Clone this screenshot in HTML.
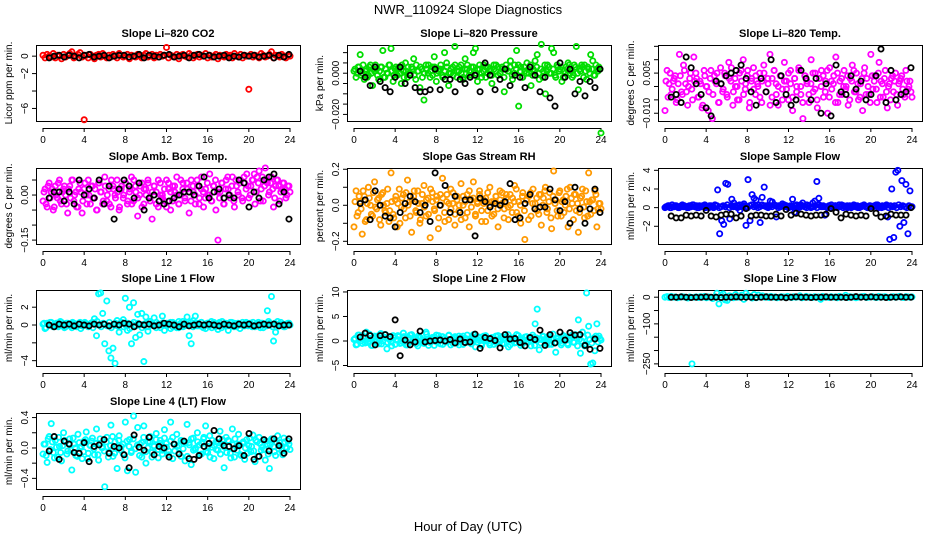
<!DOCTYPE html>
<html><head><meta charset="utf-8"><style>
body{margin:0;background:#fff}
svg{display:block;font-family:"Liberation Sans",sans-serif}
</style></head><body>
<svg id="c" width="936" height="540" viewBox="0 0 936 540">
<text x="468" y="14" text-anchor="middle" font-size="13">NWR_110924  Slope Diagnostics</text>
<text x="468" y="531" text-anchor="middle" font-size="13">Hour of Day (UTC)</text>
</svg>
<script>
const hourTicks=[0,4,8,12,16,20,24];
const co2Vals=[0.1,-0.2,0.2,0.0,-0.1,0.3,-0.2,0.1,0.0,-0.3,0.2,-0.1,0.1,0.3,0.5,-0.2,0.0,0.2,0.4,-0.1,-7.3,0.1,-0.2,0.2,0.0,-0.3,0.1,0.2,-0.1,0.3,0.0,-0.2,0.1,-0.1,0.2,0.0,-0.2,0.3,0.1,-0.1,0.0,0.2,-0.3,0.1,0.0,-0.1,0.2,0.0,-0.2,0.1,0.3,-0.1,0.0,0.2,-0.2,0.1,-0.1,0.2,0.0,0.1,1.0,-0.2,0.1,0.0,-0.1,0.2,-0.3,0.1,0.2,0.0,-0.1,0.3,0.1,-0.2,0.0,0.2,-0.1,0.1,0.0,0.3,-0.2,0.1,-0.1,0.0,0.2,-0.3,0.1,0.0,-0.1,0.2,0.0,0.1,-0.2,0.3,0.0,-0.1,0.2,-0.2,0.1,0.0,-3.8,0.2,-0.1,0.1,0.0,-0.2,0.3,0.1,-0.1,0.0,0.2,0.5,-0.2,0.1,0.0,-0.1,0.2,0.0,-0.2,0.1,0.0];
const co2Black=[-0.2,0.0,0.1,-0.1,0.1,0.0,-0.2,0.1,0.2,-0.1,0.0,0.1,-0.2,0.0,0.1,0.1,-0.1,0.0,0.2,-0.2,0.1,0.0,-0.1,0.1,0.2,-0.1,0.0,0.1,-0.2,0.1,0.2,0.0,0.1,-0.1,0.0,0.1,-0.2,0.0,-0.1,0.1,0.0,0.1,-0.1,0.0,0.1,-0.2,0.1,-0.1,0.2];
const presVals=[0.001,-0.002,0.003,0.009,0.000,-0.003,0.002,-0.001,0.004,-0.006,0.001,0.002,-0.003,0.003,0.011,-0.002,0.000,0.004,0.012,-0.004,0.002,-0.001,0.003,-0.005,0.001,0.005,-0.002,0.000,0.003,0.007,-0.003,0.001,-0.007,0.002,-0.013,0.004,0.000,-0.002,0.003,0.008,-0.004,0.001,0.002,-0.001,0.010,0.005,-0.006,0.000,0.003,0.013,-0.002,0.001,0.004,-0.003,0.007,0.002,-0.001,0.003,0.010,0.012,-0.004,0.002,0.000,0.004,-0.002,0.003,0.001,-0.005,0.002,0.004,-0.001,0.000,0.003,-0.009,0.002,0.001,0.006,-0.003,0.004,0.011,-0.016,0.003,-0.002,0.001,0.005,0.000,-0.006,0.002,0.006,0.009,-0.003,0.014,0.001,-0.010,0.004,0.000,0.012,0.010,-0.002,0.003,0.002,-0.004,0.001,0.003,0.005,0.000,-0.002,0.004,0.013,-0.008,0.001,0.003,0.004,-0.003,0.002,0.009,0.006,-0.001,0.002,0.003,-0.029];
const presVals2=[0.002,0.000,0.003,-0.001,0.004,0.001,-0.002,0.003,0.000,0.002,0.004,-0.001,0.001,0.003,-0.002,0.002,0.000,0.004,0.001,-0.001,0.003,0.002,0.000,0.004,-0.002,0.001,0.003,0.000,0.002,-0.001,0.004,0.001,0.003,-0.002,0.000,0.002,0.004,0.001,-0.001,0.003,0.000,0.002,0.004,-0.002,0.001,0.003,0.000,0.002,-0.001,0.004,0.001,0.003,0.000,-0.002,0.002,0.004,0.001,-0.001,0.003,0.000,0.002,0.004,-0.002,0.001,0.003,0.000,0.002,-0.001,0.004,0.001,0.003,0.000,0.002,-0.002,0.004,0.001,0.003,-0.001,0.000,0.002,0.004,0.001,-0.002,0.003,0.000,0.002,0.004,-0.001,0.001,0.003,0.000,0.002,-0.002,0.004,0.001,0.003,0.000,0.002,-0.001,0.004,0.001,0.003,-0.002,0.000,0.002,0.004,0.001,-0.001,0.003,0.000,0.002,0.004,-0.002,0.001,0.003,0.000,0.002,-0.001,0.004,0.001,0.002];
const presBlack=[0.001,-0.002,-0.006,0.003,-0.004,-0.007,-0.009,-0.002,0.003,-0.005,-0.001,-0.007,-0.009,-0.009,-0.008,0.002,-0.008,-0.003,-0.003,-0.009,-0.003,-0.005,-0.002,-0.001,-0.009,0.005,-0.001,-0.008,-0.003,0.002,-0.006,-0.001,-0.002,-0.007,0.003,-0.001,-0.009,-0.002,-0.012,-0.016,0.005,-0.002,0.002,-0.010,-0.004,-0.011,-0.004,-0.007,0.002];
const tempVals=[-0.009,0.006,0.001,-0.003,0.002,0.004,-0.005,0.012,-0.002,0.008,0.001,-0.007,0.003,-0.001,0.011,0.005,-0.004,0.002,-0.008,0.006,0.000,-0.009,0.003,-0.012,0.004,0.001,-0.006,0.007,-0.002,0.005,-0.003,0.009,0.002,-0.007,0.003,0.000,-0.005,0.006,0.010,-0.001,0.004,-0.008,0.002,0.007,-0.003,0.001,0.005,-0.006,0.008,-0.002,0.003,0.012,-0.004,0.006,0.001,-0.007,0.004,-0.001,0.009,0.002,-0.005,0.006,-0.009,0.003,0.000,0.007,-0.003,-0.012,0.004,0.001,-0.006,0.010,-0.002,0.005,-0.008,0.003,0.006,-0.004,0.002,-0.010,0.007,-0.001,0.004,0.011,-0.006,0.002,-0.003,0.006,0.000,-0.007,0.003,0.008,-0.002,0.005,-0.005,0.001,-0.009,0.007,0.003,-0.003,0.012,-0.001,0.004,-0.006,0.009,0.002,-0.004,0.006,-0.008,0.001,0.003,-0.002,0.005,-0.007,0.002,0.004,-0.003,0.006,-0.001,0.002,-0.004];
const tempVals2=[0.002,-0.004,0.005,-0.001,0.003,-0.006,0.001,0.004,-0.003,0.006,-0.002,0.000,0.005,-0.005,0.002,0.003,-0.004,0.001,-0.007,0.004,0.000,-0.002,0.006,-0.003,0.002,0.005,-0.006,0.001,-0.001,0.004,-0.004,0.003,0.007,-0.002,0.000,-0.005,0.005,0.002,-0.003,0.001,0.006,-0.006,0.003,-0.001,0.004,0.000,-0.004,0.002,0.005,-0.002,0.001,-0.007,0.003,0.006,-0.003,0.000,0.004,-0.005,0.002,-0.001,0.005,0.001,-0.004,0.003,-0.002,0.006,0.000,-0.006,0.004,0.002,-0.003,0.001,0.005,-0.001,-0.005,0.003,0.000,0.004,-0.002,0.006,-0.004,0.002,0.001,-0.006,0.005,-0.003,0.003,0.000,-0.001,0.004,-0.005,0.002,0.006,-0.002,0.001,-0.004,0.003,0.005,-0.003,0.000,-0.006,0.004,0.002,-0.001,0.005,-0.004,0.001,0.003,-0.002,0.000,-0.005,0.004,0.002,-0.003,0.001,0.003,-0.001,-0.004,0.002,0.000,-0.002];
const tempBlack=[-0.004,-0.003,-0.006,0.011,0.007,0.001,-0.003,-0.008,-0.011,0.002,0.001,0.004,0.005,0.006,0.008,0.003,-0.002,-0.007,0.003,-0.002,0.010,-0.006,0.004,-0.003,-0.007,-0.005,0.006,0.003,-0.005,0.003,-0.010,0.001,-0.011,0.008,-0.002,-0.003,0.004,-0.001,0.002,-0.005,-0.003,0.004,0.014,-0.006,0.006,-0.005,-0.003,-0.002,0.007];
const ambVals=[-0.02,0.02,-0.04,0.04,0.01,-0.05,0.03,-0.01,0.05,-0.03,0.02,0.00,-0.06,0.03,0.05,-0.02,0.01,-0.04,0.04,-0.06,0.02,0.00,0.05,-0.03,0.03,-0.01,-0.05,0.04,0.01,-0.03,0.06,-0.02,0.02,-0.04,0.03,0.00,0.05,-0.05,0.02,-0.01,0.04,-0.03,0.01,0.06,-0.02,0.03,-0.07,0.00,0.04,-0.03,0.02,0.05,-0.01,-0.08,0.03,0.01,-0.04,0.04,0.00,-0.02,0.05,0.02,-0.05,0.03,0.01,0.06,-0.03,0.00,0.04,-0.02,0.02,-0.06,0.05,0.01,-0.03,0.03,-0.01,0.06,-0.04,0.02,0.00,0.07,-0.02,0.03,-0.05,-0.15,0.01,0.04,-0.03,0.05,0.02,-0.01,0.06,-0.04,0.03,0.00,0.05,-0.02,0.04,0.07,-0.01,0.03,0.05,-0.03,0.06,0.08,0.02,-0.02,0.09,0.04,0.01,0.06,-0.04,0.03,0.05,-0.02,0.02,0.04,-0.01,0.03,0.01];
const ambVals2=[0.01,-0.03,0.03,-0.01,0.02,-0.04,0.00,0.04,-0.02,0.01,0.03,-0.03,0.02,-0.01,0.05,0.00,-0.04,0.02,0.01,-0.02,0.04,-0.03,0.00,0.03,-0.01,0.02,-0.05,0.04,0.01,-0.02,0.03,0.00,-0.03,0.05,0.02,-0.01,0.01,-0.04,0.03,0.00,0.04,-0.02,0.02,-0.03,0.05,0.01,-0.01,0.03,-0.04,0.02,0.00,0.04,-0.02,0.01,0.03,-0.03,0.05,0.00,-0.01,0.02,-0.04,0.04,0.01,-0.02,0.03,0.00,-0.03,0.05,0.02,-0.01,0.04,0.01,-0.02,0.03,0.00,0.05,-0.03,0.02,0.01,-0.01,0.04,0.00,-0.02,0.03,0.05,0.01,-0.01,0.04,-0.03,0.02,0.06,0.00,0.03,-0.02,0.05,0.01,0.04,-0.01,0.06,0.02,0.03,0.00,0.05,0.07,0.01,0.04,-0.02,0.06,0.03,0.05,0.00,0.04,0.02,-0.01,0.05,0.03,0.01,0.04,0.02,0.00,0.03];
const ambBlack=[-0.01,0.01,0.01,-0.02,0.01,-0.03,0.05,0.00,0.02,-0.01,0.05,-0.03,0.03,-0.08,0.02,0.05,0.03,-0.01,0.04,-0.05,-0.01,0.00,-0.02,-0.03,-0.02,-0.01,0.00,0.01,0.01,0.00,0.03,0.06,-0.01,0.01,0.02,-0.01,0.00,-0.01,0.05,0.04,-0.04,0.01,-0.01,0.05,0.06,0.07,-0.03,0.01,-0.08];
const rhVals=[-0.12,0.08,-0.04,0.02,-0.16,0.05,-0.08,0.10,0.00,-0.06,0.13,-0.02,0.04,-0.11,0.07,-0.03,0.01,-0.09,0.18,-0.05,0.03,-0.12,0.09,-0.01,0.06,-0.07,0.14,0.02,-0.15,0.05,-0.03,0.08,-0.10,0.01,0.11,-0.06,0.04,-0.18,0.07,-0.02,0.03,-0.13,0.06,0.15,-0.04,0.02,-0.08,0.09,0.01,-0.11,0.05,-0.03,0.12,0.00,-0.07,0.06,-0.12,0.03,0.13,-0.05,0.02,0.08,-0.09,0.01,0.04,-0.03,0.10,-0.06,0.02,0.05,-0.12,0.03,0.07,-0.02,0.06,-0.08,0.00,0.04,0.11,-0.04,0.02,-0.10,0.07,-0.19,0.03,0.05,-0.06,0.09,0.01,-0.03,0.06,-0.11,0.04,0.10,-0.02,0.07,-0.13,0.19,0.03,-0.06,0.08,0.02,-0.04,0.05,-0.12,0.10,0.01,0.06,-0.03,-0.15,0.04,0.09,-0.07,0.02,0.18,-0.05,0.03,0.08,-0.12,0.01,-0.02];
const rhVals2=[0.02,-0.06,0.05,-0.02,0.08,-0.09,0.01,0.04,-0.05,0.07,-0.01,0.03,-0.08,0.06,0.00,-0.04,0.09,-0.03,0.02,-0.07,0.05,0.01,-0.10,0.04,-0.02,0.07,0.00,-0.06,0.03,0.08,-0.04,0.01,-0.08,0.06,-0.01,0.03,-0.05,0.09,0.02,-0.03,0.05,-0.07,0.00,0.04,-0.09,0.06,0.01,-0.02,0.07,-0.05,0.03,0.00,-0.08,0.05,0.02,-0.04,0.08,-0.01,0.04,-0.06,0.01,0.06,-0.03,0.03,-0.09,0.07,0.00,0.02,-0.05,0.05,-0.02,0.08,0.01,-0.07,0.04,-0.01,0.06,-0.04,0.02,0.09,-0.06,0.00,0.05,-0.03,0.03,-0.08,0.07,0.01,-0.02,0.04,-0.05,0.06,0.00,0.08,-0.04,0.02,-0.07,0.05,0.01,-0.03,0.07,-0.06,0.03,0.00,0.09,-0.02,0.04,-0.08,0.06,0.01,-0.04,0.05,-0.01,0.08,-0.06,0.02,0.03,-0.03,0.06,-0.02,0.01];
const rhBlack=[0.01,0.03,-0.08,0.08,0.00,-0.06,-0.07,-0.12,-0.04,0.01,0.05,0.02,-0.04,0.00,-0.09,0.18,0.00,0.11,-0.04,0.05,-0.04,0.03,0.03,-0.17,0.04,0.02,-0.01,0.01,0.00,0.02,0.12,-0.08,-0.07,0.01,0.06,-0.02,-0.01,-0.01,0.09,0.03,-0.03,0.02,-0.10,0.10,-0.02,-0.10,-0.02,0.09,-0.04];
const sampVals=[0.0,0.1,0.2,0.0,0.1,0.2,0.1,0.0,0.2,0.1,0.1,0.0,0.2,0.1,0.3,0.1,0.0,0.2,0.1,0.2,0.0,0.1,0.2,0.1,0.0,0.2,1.9,-2.8,-1.4,-1.8,2.6,2.5,-1.2,0.9,0.5,0.1,0.2,-0.3,0.1,0.4,-1.9,3.0,-1.4,1.4,1.0,0.8,0.3,-1.6,1.1,2.2,0.2,0.1,0.7,0.6,0.3,-1.0,0.2,0.1,0.4,0.1,0.2,0.0,0.1,0.9,-0.5,0.2,0.1,0.3,0.5,0.1,0.0,0.2,0.1,0.5,0.7,2.8,1.0,0.2,0.1,-0.8,0.1,0.2,0.0,0.1,0.2,0.1,0.3,0.2,0.0,0.1,0.2,0.1,0.0,0.2,0.1,0.2,0.0,0.1,0.2,0.1,0.0,0.2,0.1,0.1,0.2,0.3,0.1,0.0,0.1,0.2,-1.0,-3.4,2.0,-3.2,3.8,4.0,-2.0,2.9,-1.6,2.5,-2.8,1.8,0.1];
const sampVals2=[0.1,0.2,0.0,0.3,0.1,0.2,0.0,0.1,0.3,0.2,0.1,0.0,0.2,0.3,0.1,0.2,0.0,0.1,0.2,0.3,0.1,0.0,0.2,0.1,0.3,0.2,0.0,0.1,0.2,0.1,0.3,0.0,0.2,0.1,0.2,0.0,0.3,0.1,0.2,0.1,0.0,0.2,0.3,0.1,0.2,0.0,0.1,0.3,0.2,0.1,0.0,0.2,0.1,0.3,0.2,0.0,0.1,0.2,0.3,0.1,0.0,0.2,0.1,0.2,0.3,0.0,0.1,0.2,0.1,0.3,0.2,0.0,0.1,0.2,0.0,0.3,0.1,0.2,0.1,0.0,0.2,0.3,0.1,0.2,0.0,0.1,0.3,0.2,0.1,0.0,0.2,0.1,0.3,0.2,0.0,0.1,0.2,0.3,0.1,0.0,0.2,0.1,0.2,0.3,0.0,0.1,0.2,0.1,0.3,0.0,0.2,0.1,0.2,0.0,0.3,0.1,0.2,0.1,0.0,0.2,0.1];
const sampBlack=[-0.9,-1.1,-1.1,-0.8,-0.9,-0.8,-0.9,-0.3,-0.9,-1.0,-0.8,-0.7,-0.7,-1.1,-0.9,-0.1,-0.9,-0.8,-0.8,-0.9,-0.9,-0.7,-0.9,-0.2,-0.8,-0.6,-0.7,-0.8,-0.9,-0.8,-0.8,-0.7,-0.1,-0.5,-1.1,-0.7,-0.8,-0.9,-0.8,-0.9,-0.1,-0.6,-1.0,-0.9,-0.7,-0.8,-0.8,-0.8,0.0];
const l1Vals=[0.1,-0.4,0.2,0.0,0.3,-0.2,0.1,0.2,-0.1,0.3,0.0,-0.2,0.2,0.1,-0.3,0.2,0.0,0.1,0.3,-0.1,0.2,0.0,-0.2,0.1,0.3,0.7,-1.2,3.5,3.6,1.3,-2.1,2.7,-2.9,-3.7,-2.6,-4.3,0.5,-0.8,0.3,0.6,3.0,-0.6,2.0,-2.1,2.5,-1.4,1.2,-1.1,1.3,-4.1,0.9,-0.7,0.4,0.2,0.8,-0.3,0.1,0.0,1.0,-0.6,0.2,0.1,-0.4,0.3,0.0,-0.3,0.4,0.1,-0.2,0.2,0.9,-1.2,-2.1,0.5,1.0,0.2,-0.1,0.3,0.0,-0.4,0.2,0.1,-0.3,0.3,0.0,-0.5,0.2,0.4,-0.1,0.1,-0.6,0.3,0.0,0.2,-0.2,0.1,0.0,0.3,-0.1,0.2,0.0,0.1,0.3,-0.2,0.1,0.0,0.2,-0.3,0.1,1.6,0.2,3.2,-1.8,-0.8,0.4,0.1,0.0,-0.2,0.1,0.2,0.0];
const l1Vals2=[0.2,-0.3,0.1,0.3,-0.1,0.0,0.2,-0.2,0.4,0.1,-0.3,0.2,0.0,-0.1,0.3,0.1,-0.2,0.2,-0.4,0.0,0.3,0.1,-0.1,0.2,-0.3,0.1,0.4,0.0,-0.2,0.2,0.1,-0.1,0.3,-0.3,0.0,0.2,-0.1,0.1,0.3,-0.2,0.0,0.2,-0.4,0.1,0.3,-0.1,0.2,0.0,-0.3,0.1,0.2,-0.2,0.4,0.0,-0.1,0.3,0.1,-0.3,0.2,0.0,-0.1,0.2,0.3,-0.2,0.1,0.0,-0.3,0.2,0.4,-0.1,0.1,0.0,0.3,-0.2,0.2,-0.1,0.1,0.3,-0.3,0.0,0.2,-0.1,0.4,0.1,-0.2,0.0,0.3,-0.3,0.1,0.2,-0.1,0.0,0.3,-0.2,0.1,0.2,-0.4,0.0,0.1,0.3,-0.1,0.2,-0.2,0.0,0.1,0.3,-0.3,0.2,0.0,-0.1,0.4,0.1,-0.2,0.2,0.0,-0.1,0.3,0.1,-0.2,0.0,0.2];
const l1Black=[0.0,-0.2,0.1,0.0,0.1,-0.1,0.1,0.0,-0.1,0.1,0.0,0.1,-0.1,0.1,0.0,0.2,0.1,-0.2,0.1,0.0,0.1,-0.1,0.0,0.2,0.1,0.0,-0.2,0.1,-0.1,0.0,0.1,0.0,0.1,0.0,-0.1,0.1,0.0,-0.1,0.1,0.0,0.1,-0.1,0.0,0.1,0.0,0.1,-0.1,0.0,0.0];
const l2Vals=[0.3,-0.8,1.2,0.0,-0.5,0.8,1.8,-0.3,0.5,-0.9,1.0,0.2,-0.6,1.5,0.0,0.7,-1.6,0.4,-0.2,1.1,-0.7,0.3,0.9,-0.4,1.6,0.0,-0.8,0.6,1.3,-0.2,0.5,-1.0,0.8,0.2,-0.5,1.8,0.0,-0.3,0.7,-0.9,1.2,0.3,-0.6,0.9,0.0,-0.2,1.1,-0.8,0.4,0.6,-0.4,1.0,0.1,-0.7,0.5,1.2,-0.3,0.2,0.8,-1.2,0.3,0.6,-0.5,1.0,0.0,0.4,-0.8,0.7,0.2,-0.3,1.1,0.0,-0.6,0.5,0.9,-1.2,0.2,0.6,-0.4,1.3,0.0,-0.9,0.4,0.8,-0.2,0.5,-1.0,0.7,3.5,6.5,-1.8,0.3,0.9,-0.5,0.2,1.1,-0.7,0.4,-2.3,0.6,0.0,-0.4,1.0,0.3,-0.8,0.5,1.2,-0.3,0.6,4.3,-2.5,1.8,-1.0,9.8,3.0,-4.7,-4.5,-2.0,3.5,1.0,0.2];
const l2Vals2=[0.5,-0.7,1.2,0.0,0.9,-0.4,0.3,1.4,-0.9,0.6,-0.2,1.0,0.1,-0.6,0.8,1.3,-0.3,0.4,-1.0,0.7,0.2,1.1,-0.5,0.0,0.9,-0.8,0.5,1.2,-0.1,0.3,-0.6,1.0,0.6,-0.4,0.2,1.4,-0.9,0.4,0.0,0.8,-0.2,1.1,0.3,-0.7,0.6,-0.1,1.2,0.2,-0.5,0.9,0.0,-0.8,0.7,1.0,-0.3,0.4,0.1,-0.6,1.3,0.5,-0.2,0.8,-0.9,0.3,1.1,0.0,-0.4,0.6,-0.7,1.0,0.2,-0.1,0.9,-0.5,0.4,1.3,-0.8,0.1,0.7,-0.3,1.1,0.5,-0.6,0.2,0.9,-0.2,0.0,1.2,-0.9,0.6,0.3,-0.4,1.0,-0.1,0.8,-0.7,0.4,1.4,-0.3,0.5,0.1,-0.8,1.1,0.7,-0.5,0.2,0.9,-0.2,1.3,-1.0,0.4,0.0,0.8,-0.6,1.2,0.3,-0.4,0.6,1.0,-0.2,0.5];
const l2Black=[0.8,1.6,1.1,-0.8,1.1,1.3,0.9,4.3,-3.0,0.2,-0.8,-0.2,2.0,-0.2,0.0,0.1,0.2,0.0,0.3,-0.4,0.4,-0.3,-0.2,1.4,-1.5,0.7,0.5,0.1,-1.4,1.3,0.4,0.5,-0.3,-1.0,0.7,0.3,2.2,-0.9,1.3,-0.4,1.8,0.2,1.7,1.2,1.3,-0.9,-1.7,0.4,-1.5];
const l3Vals=[0,2,-1,3,0,1,-2,0,2,1,0,-3,1,-250,0,1,-1,2,0,3,-2,1,0,-5,2,15,-25,8,12,-10,-12,5,3,-2,10,0,1,8,-8,15,5,3,-3,10,-2,8,1,5,0,2,-1,3,0,1,-2,0,2,1,0,3,1,-1,2,0,1,5,-2,0,3,0,1,-1,2,0,1,-8,3,0,1,-1,2,0,1,-2,3,0,1,7,-1,2,0,1,-2,0,1,2,3,-1,0,1,2,0,-1,3,0,1,2,0,-1,1,2,0,1,3,0,-1,2,1,0,1];
const l3Black=[0,0,1,0,-1,0,0,1,0,0,-1,0,0,1,0,0,0,-1,0,1,0,0,0,-2,0,1,0,0,-1,0,0,1,0,0,0,-1,0,2,0,0,1,0,0,-1,0,0,1,0,0];
const l4Vals=[-0.08,0.05,-0.19,0.15,0.32,-0.06,0.10,-0.12,0.02,-0.17,0.20,0.08,-0.04,0.12,-0.29,0.05,-0.10,0.18,0.00,-0.14,0.09,0.21,-0.07,0.03,0.13,-0.09,0.25,-0.16,0.06,0.01,-0.51,0.14,-0.05,0.30,-0.11,0.08,-0.27,0.16,0.02,-0.08,0.34,-0.30,0.11,-0.04,0.42,-0.32,0.27,0.05,-0.12,0.29,-0.20,0.08,0.15,-0.06,0.02,0.19,-0.13,0.10,-0.03,0.24,0.06,-0.09,0.34,0.14,-0.04,0.18,0.03,-0.11,0.09,-0.17,0.31,0.07,-0.22,0.13,-0.02,0.20,0.04,-0.08,0.12,0.29,-0.06,0.16,0.01,-0.14,0.08,-0.03,0.22,0.05,-0.26,0.14,0.10,-0.07,0.25,-0.12,0.02,0.18,-0.09,0.06,-0.15,0.11,0.03,-0.05,0.17,-0.18,0.08,0.14,-0.03,0.10,-0.16,0.05,-0.27,0.12,0.02,-0.10,0.16,0.07,-0.04,0.13,0.01,0.09,-0.02];
const l4Vals2=[0.05,-0.10,0.12,-0.02,0.08,-0.13,0.01,0.14,-0.06,0.03,0.10,-0.08,0.06,-0.03,0.13,0.00,-0.11,0.07,0.02,-0.05,0.11,-0.14,0.04,0.09,-0.01,0.06,-0.09,0.12,0.00,-0.04,0.08,-0.12,0.03,0.15,-0.07,0.01,0.10,-0.03,0.05,-0.13,0.09,0.02,-0.06,0.12,-0.01,0.04,-0.10,0.07,0.14,-0.05,0.00,0.08,-0.12,0.03,0.11,-0.02,0.06,-0.08,0.13,0.01,-0.04,0.09,-0.14,0.05,0.02,-0.07,0.10,-0.01,0.07,-0.11,0.04,0.12,-0.03,0.00,0.08,-0.09,0.06,0.14,-0.05,0.02,-0.12,0.10,0.03,-0.02,0.07,-0.08,0.11,0.01,-0.06,0.09,-0.13,0.04,0.12,-0.03,0.05,-0.10,0.08,0.00,-0.07,0.13,0.02,-0.04,0.10,-0.11,0.06,0.01,-0.02,0.09,-0.08,0.04,0.11,-0.05,0.07,-0.01,0.03,-0.09,0.08,0.00,0.05];
const l4Black=[-0.04,0.15,-0.15,0.09,0.05,-0.06,-0.07,0.07,-0.18,0.02,0.04,0.11,-0.07,0.02,0.00,-0.09,-0.26,0.17,0.01,-0.03,0.14,-0.09,0.02,0.00,-0.12,0.05,-0.08,0.09,-0.14,-0.15,-0.10,0.02,0.06,0.23,0.12,0.03,0.02,-0.01,0.03,-0.10,0.19,-0.15,-0.11,0.11,-0.04,0.12,0.03,-0.07,0.12];

const panels=[
{n:'co2',title:'Slope Li–820 CO2',yl:'Licor ppm per min.',col:0,row:0,lo:-7.44,hi:1.28,ticks:[0,-2,-4,-6],labels:[0,-2,-6],fmt:v=>v,color:'#ff0000',vals:co2Vals,vals2:[],blk:co2Black},
{n:'pressure',title:'Slope Li–820 Pressure',yl:'kPa per min.',col:1,row:0,lo:-0.0232,hi:0.0137,ticks:[0.01,0.005,0,-0.005,-0.01,-0.015,-0.02],labels:[0,-0.02],fmt:v=>v.toFixed(3),color:'#00dd00',vals:presVals,vals2:presVals2,blk:presBlack},
{n:'temp',title:'Slope Li–820 Temp.',yl:'degrees C per min.',col:2,row:0,lo:-0.0129,hi:0.0155,ticks:[0.015,0.01,0.005,0,-0.005,-0.01],labels:[0.005,-0.01],fmt:v=>v.toFixed(3),color:'#ff00ff',vals:tempVals,vals2:tempVals2,blk:tempBlack},
{n:'amb-temp',title:'Slope Amb. Box Temp.',yl:'degrees C per min.',col:0,row:1,lo:-0.163,hi:0.09,ticks:[0.05,0,-0.05,-0.1,-0.15],labels:[0,-0.15],fmt:v=>v.toFixed(2),color:'#ff00ff',vals:ambVals,vals2:ambVals2,blk:ambBlack},
{n:'gas-rh',title:'Slope Gas Stream RH',yl:'percent per min.',col:1,row:1,lo:-0.215,hi:0.207,ticks:[0.2,0.1,0,-0.1,-0.2],labels:[0.2,0,-0.2],fmt:v=>v.toFixed(1),color:'#ff9900',vals:rhVals,vals2:rhVals2,blk:rhBlack},
{n:'sample-flow',title:'Slope Sample Flow',yl:'ml/min per min.',col:2,row:1,lo:-3.9,hi:4.25,ticks:[4,2,0,-2],labels:[4,2,0,-2],fmt:v=>v,color:'#0000ff',vals:sampVals,vals2:sampVals2,blk:sampBlack},
{n:'line1-flow',title:'Slope Line 1 Flow',yl:'ml/min per min.',col:0,row:2,lo:-4.6,hi:3.93,ticks:[2,0,-2,-4],labels:[2,0,-4],fmt:v=>v,color:'#00ffff',vals:l1Vals,vals2:l1Vals2,blk:l1Black},
{n:'line2-flow',title:'Slope Line 2 Flow',yl:'ml/min per min.',col:1,row:2,lo:-5.1,hi:10.4,ticks:[10,5,0,-5],labels:[10,5,0,-5],fmt:v=>v,color:'#00ffff',vals:l2Vals,vals2:l2Vals2,blk:l2Black},
{n:'line3-flow',title:'Slope Line 3 Flow',yl:'ml/min per min.',col:2,row:2,lo:-258,hi:27,ticks:[0,-50,-100,-150,-200,-250],labels:[0,-100,-250],fmt:v=>v,color:'#00ffff',vals:l3Vals,vals2:[],blk:l3Black},
{n:'line4-flow',title:'Slope Line 4 (LT) Flow',yl:'ml/min per min.',col:0,row:3,lo:-0.54,hi:0.46,ticks:[0.4,0.2,0,-0.2,-0.4],labels:[0.4,0,-0.4],fmt:v=>v.toFixed(1),color:'#00ffff',vals:l4Vals,vals2:l4Vals2,blk:l4Black}
];
const colLeft=[36,347,658], rowTop=[45,168,290,413], boxW=264, boxH=76;
const NS='http://www.w3.org/2000/svg';
const svg=document.getElementById('c');
function mk(tag,attrs,parent){const e=document.createElementNS(NS,tag);for(const k in attrs)e.setAttribute(k,attrs[k]);(parent||svg).appendChild(e);return e;}
panels.forEach(p=>{
  const L=colLeft[p.col],T=rowTop[p.row],B=T+boxH;
  const g=mk('g',{});
  
  
  const xs=h=>L+7+h*(247/24);
  const ys=v=>B-(v-p.lo)/(p.hi-p.lo)*boxH;
  const t=mk('text',{x:L+boxW/2,y:T-8,'text-anchor':'middle','font-size':11,'font-weight':'bold'},g);
  t.textContent=p.title;
  
  
  const yt=mk('text',{transform:`translate(${L-24},${(T+B)/2}) rotate(-90)`,'text-anchor':'middle','font-size':10},g);
  yt.textContent=p.yl;
  
  
  const box=mk('rect',{x:L+0.5,y:T+0.5,width:boxW,height:boxH,fill:'none',stroke:'#000','stroke-width':1},g);
  
  
  p.ticks.forEach(v=>{
    const tk=mk('line',{x1:L-4,x2:L,y1:ys(v),y2:ys(v),stroke:'#000'},g);
    
    
  });
  p.labels.forEach(v=>{
    const lb=mk('text',{transform:`translate(${L-8},${ys(v)}) rotate(-90)`,'text-anchor':'middle','font-size':10},g);
    lb.textContent=String(p.fmt(v)).replace('-','−');
    
    
  });
  const ax=mk('line',{x1:xs(0),x2:xs(24),y1:B+7.5,y2:B+7.5,stroke:'#000'},g);
  
  
  hourTicks.forEach(h=>{
    const tk=mk('line',{x1:xs(h),x2:xs(h),y1:B+7,y2:B+11,stroke:'#000'},g);
    
    
    const lb=mk('text',{x:xs(h),y:B+22,'text-anchor':'middle','font-size':10},g);
    lb.textContent=h;
    
    
  });
  const n2=p.vals2.length;
  p.vals2.forEach((v,i)=>{
    const c=mk('circle',{cx:xs((i+0.5)*24/n2),cy:ys(v),r:2.6,fill:'none',stroke:p.color,'stroke-width':1.8},g);
    
    
  });
  const n=p.vals.length;
  p.vals.forEach((v,i)=>{
    const c=mk('circle',{cx:xs(i*24/(n-1)),cy:ys(v),r:2.6,fill:'none',stroke:p.color,'stroke-width':1.8},g);
    
    
  });
  const m=p.blk.length;
  p.blk.forEach((v,i)=>{
    const c=mk('circle',{cx:xs(0.6+i*23.3/(m-1)),cy:ys(v),r:2.6,fill:'none',stroke:'#000','stroke-width':1.8},g);
    
    
  });
});
</script>
</body></html>
